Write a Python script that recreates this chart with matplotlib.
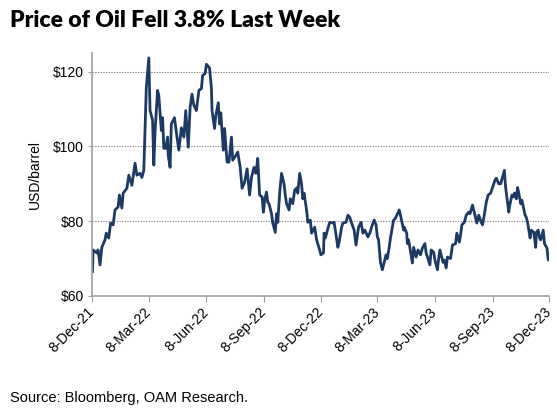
import numpy as np
import pandas as pd
import matplotlib
matplotlib.use("Agg")
import matplotlib.pyplot as plt
import matplotlib.dates as mdates

# WTI crude, USD/barrel
dates = [
    "2021-12-08", "2021-12-09", "2021-12-15", "2021-12-17", "2021-12-20", "2021-12-23", "2021-12-28", "2021-12-30",
    "2022-01-03", "2022-01-06", "2022-01-10", "2022-01-13", "2022-01-18", "2022-01-20", "2022-01-24", "2022-01-26",
    "2022-02-01", "2022-02-04", "2022-02-09", "2022-02-14", "2022-02-17", "2022-02-22", "2022-02-25", "2022-02-28",
    "2022-03-03", "2022-03-04", "2022-03-08", "2022-03-10", "2022-03-14", "2022-03-16", "2022-03-18", "2022-03-22",
    "2022-03-24", "2022-03-28", "2022-03-30", "2022-04-01", "2022-04-04", "2022-04-07", "2022-04-08", "2022-04-11",
    "2022-04-13", "2022-04-18", "2022-04-22", "2022-04-25", "2022-04-29", "2022-05-03", "2022-05-06", "2022-05-10",
    "2022-05-13", "2022-05-16", "2022-05-19", "2022-05-23", "2022-05-27", "2022-05-31", "2022-06-02", "2022-06-06",
    "2022-06-08", "2022-06-13", "2022-06-16", "2022-06-17", "2022-06-21", "2022-06-23", "2022-06-27", "2022-06-29",
    "2022-07-01", "2022-07-05", "2022-07-07", "2022-07-11", "2022-07-14", "2022-07-18", "2022-07-20", "2022-07-25",
    "2022-07-28", "2022-08-01", "2022-08-04", "2022-08-08", "2022-08-12", "2022-08-16", "2022-08-19", "2022-08-23",
    "2022-08-26", "2022-08-29", "2022-09-01", "2022-09-05", "2022-09-07", "2022-09-09", "2022-09-12", "2022-09-14",
    "2022-09-16", "2022-09-20", "2022-09-22", "2022-09-26", "2022-09-28", "2022-09-30", "2022-10-03", "2022-10-06",
    "2022-10-10", "2022-10-12", "2022-10-14", "2022-10-18", "2022-10-20", "2022-10-24", "2022-10-27", "2022-10-31",
    "2022-11-01", "2022-11-04", "2022-11-07", "2022-11-09", "2022-11-11", "2022-11-15", "2022-11-17", "2022-11-21",
    "2022-11-23", "2022-11-28", "2022-12-01", "2022-12-05", "2022-12-08", "2022-12-12", "2022-12-13", "2022-12-15",
    "2022-12-19", "2022-12-22", "2022-12-27", "2022-12-29", "2023-01-04", "2023-01-06", "2023-01-10", "2023-01-12",
    "2023-01-17", "2023-01-20", "2023-01-23", "2023-01-26", "2023-01-30", "2023-02-02", "2023-02-06", "2023-02-08",
    "2023-02-10", "2023-02-13", "2023-02-16", "2023-02-21", "2023-02-24", "2023-02-28", "2023-03-03", "2023-03-06",
    "2023-03-08", "2023-03-10", "2023-03-13", "2023-03-16", "2023-03-20", "2023-03-22", "2023-03-24", "2023-03-27",
    "2023-03-29", "2023-04-03", "2023-04-06", "2023-04-12", "2023-04-14", "2023-04-19", "2023-04-20", "2023-04-24",
    "2023-04-25", "2023-04-27", "2023-05-03", "2023-05-05", "2023-05-09", "2023-05-12", "2023-05-16", "2023-05-19",
    "2023-05-23", "2023-05-25", "2023-05-31", "2023-06-02", "2023-06-06", "2023-06-08", "2023-06-12", "2023-06-14",
    "2023-06-16", "2023-06-21", "2023-06-23", "2023-06-26", "2023-06-28", "2023-07-03", "2023-07-06", "2023-07-11",
    "2023-07-13", "2023-07-17", "2023-07-19", "2023-07-21", "2023-07-25", "2023-07-28", "2023-08-01", "2023-08-03",
    "2023-08-07", "2023-08-09", "2023-08-14", "2023-08-17", "2023-08-21", "2023-08-23", "2023-08-25", "2023-08-29",
    "2023-09-01", "2023-09-05", "2023-09-08", "2023-09-12", "2023-09-14", "2023-09-18", "2023-09-21", "2023-09-27",
    "2023-09-28", "2023-09-29", "2023-10-04", "2023-10-05", "2023-10-09", "2023-10-11", "2023-10-13", "2023-10-16",
    "2023-10-18", "2023-10-20", "2023-10-23", "2023-10-25", "2023-10-30", "2023-11-01", "2023-11-03", "2023-11-07",
    "2023-11-09", "2023-11-13", "2023-11-16", "2023-11-17", "2023-11-20", "2023-11-22", "2023-11-24", "2023-11-28",
    "2023-11-30", "2023-12-04", "2023-12-06", "2023-12-08",
]
prices = [
    66.5, 72.3, 71.5, 72.3, 68.3, 73.0, 75.0, 76.8,
    75.5, 79.5, 79.0, 83.0, 83.8, 87.0, 83.5, 87.5,
    88.8, 92.3, 89.6, 95.5, 92.3, 92.8, 91.7, 93.6,
    110.5, 115.7, 123.7, 109.6, 107.0, 95.0, 104.0, 115.0,
    113.6, 104.3, 107.7, 99.5, 99.5, 102.5, 97.6, 94.4,
    106.0, 107.7, 102.5, 99.0, 105.0, 102.5, 109.6, 99.8,
    110.5, 114.0, 111.0, 109.6, 115.0, 115.5, 119.0, 119.5,
    122.0, 121.0, 115.7, 109.6, 104.8, 108.3, 111.7, 106.0,
    109.0, 99.0, 104.8, 95.8, 95.8, 102.5, 96.3, 97.6,
    98.5, 94.4, 88.8, 90.4, 94.0, 87.0, 91.7, 94.4,
    92.8, 96.8, 87.0, 86.5, 82.4, 85.6, 87.8, 85.0,
    84.7, 82.0, 79.5, 77.0, 82.0, 79.7, 87.5, 92.8,
    90.0, 87.0, 84.7, 83.0, 86.0, 84.7, 88.3, 89.0,
    87.5, 92.8, 90.0, 86.0, 87.5, 83.0, 79.7, 80.3,
    76.8, 78.4, 75.0, 72.8, 71.0, 71.5, 76.8, 75.5,
    78.0, 79.7, 79.5, 79.7, 73.0, 74.4, 78.4, 79.5,
    79.7, 81.6, 81.0, 79.5, 77.6, 73.6, 78.4, 79.0,
    79.7, 76.8, 77.6, 75.8, 76.8, 79.0, 80.3, 79.0,
    75.8, 75.0, 69.0, 67.0, 69.6, 71.0, 70.0, 73.0,
    75.5, 80.3, 80.8, 83.0, 81.6, 77.6, 78.4, 76.8,
    74.0, 75.0, 68.8, 73.0, 70.4, 72.3, 71.0, 72.8,
    74.0, 71.5, 68.3, 72.3, 71.7, 69.6, 67.0, 70.0,
    72.3, 69.0, 69.6, 67.5, 70.4, 70.0, 73.6, 74.0,
    76.8, 74.4, 76.3, 79.0, 79.7, 81.6, 82.4, 82.0,
    84.3, 83.0, 79.5, 81.6, 79.7, 79.0, 80.8, 85.0,
    87.0, 87.5, 89.0, 91.0, 91.5, 90.0, 90.0, 93.6,
    91.0, 89.0, 82.4, 83.8, 87.0, 86.5, 87.5, 86.0,
    89.0, 87.5, 84.7, 85.6, 81.6, 81.0, 79.7, 75.5,
    77.6, 77.0, 73.0, 77.0, 77.6, 75.5, 75.0, 77.6,
    74.0, 72.8, 69.6, 71.0,
]

tick_dates = ["2021-12-08", "2022-03-08", "2022-06-08", "2022-09-08", "2022-12-08",
              "2023-03-08", "2023-06-08", "2023-09-08", "2023-12-08"]
y_ticks = [60, 80, 100, 120]

x = pd.to_datetime(dates)
ticks = pd.to_datetime(tick_dates)

fig = plt.figure(figsize=(5.57, 4.11), dpi=100)
ax = fig.add_axes([0.166, 0.28, 0.8205, 0.591])

ax.plot(x, prices, color="#1c3a63", lw=2.0, solid_joinstyle="round")

ax.set_xlim(ticks[0], ticks[-1])
ax.set_ylim(60, 125)
ax.set_yticks(y_ticks)
ax.set_yticklabels([f"${v}" for v in y_ticks], fontsize=10, family="Liberation Sans")
ax.set_xticks(ticks)
ax.set_xticklabels([f"{d.day}-{d.strftime('%b-%y')}" for d in ticks],
                   rotation=45, ha="right", va="center", rotation_mode="anchor",
                   fontsize=10, family="Liberation Sans")
ax.tick_params(axis="x", length=4, color="#a0a0a0", pad=6)
ax.tick_params(axis="y", length=3, color="#a0a0a0", pad=3)

for v in y_ticks[1:]:
    ax.axhline(v, color="#8c8c8c", lw=0.8, ls=(0, (1.2, 1.2)), zorder=0)

for s in ["top", "right"]:
    ax.spines[s].set_visible(False)
for s in ["left", "bottom"]:
    ax.spines[s].set_color("#a0a0a0")
    ax.spines[s].set_linewidth(1.2)

ax.set_ylabel("USD/barrel", fontsize=10, family="Liberation Sans", labelpad=8)

fig.text(0.018, 0.95, "Price of Oil Fell 3.8% Last Week", fontsize=16.5,
         fontweight="heavy", family="Lato", va="center", ha="left")
fig.text(0.018, 0.032, "Source: Bloomberg, OAM Research.", fontsize=10.5,
         family="Liberation Sans", va="center", ha="left")

fig.savefig("out.png", dpi=100)
